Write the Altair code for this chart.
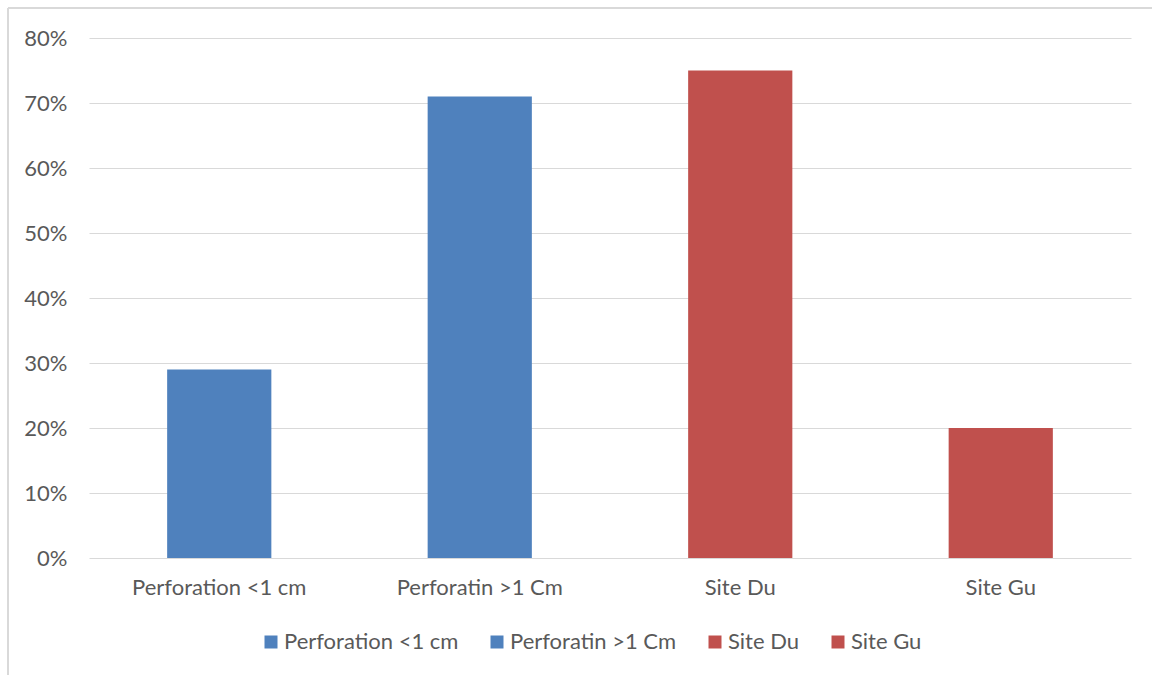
import altair as alt
import pandas as pd

categories = ["Perforation <1 cm", "Perforatin >1 Cm", "Site Du", "Site Gu"]
values = [0.29, 0.71, 0.75, 0.20]
colors = ["#4F81BD", "#4F81BD", "#C0504D", "#C0504D"]

df = pd.DataFrame({"category": categories, "value": values})

FONT = "Lato"
TXT = "#595959"
GRID = "#D9D9D9"
FS = 22

bars = alt.Chart(df).mark_bar().encode(
    x=alt.X("category:N", sort=categories, title=None,
            scale=alt.Scale(paddingInner=0.6, paddingOuter=0.3),
            axis=alt.Axis(labelAngle=0, labelFont=FONT, labelFontSize=FS, labelColor=TXT,
                          labelPadding=19, ticks=False, domain=False, grid=False)),
    y=alt.Y("value:Q", title=None,
            scale=alt.Scale(domain=[0, 0.8]),
            axis=alt.Axis(format=".0%", values=[0, 0.1, 0.2, 0.3, 0.4, 0.5, 0.6, 0.7, 0.8],
                          labelFont=FONT, labelFontSize=FS, labelColor=TXT, labelPadding=22,
                          ticks=False, domain=False, grid=True, gridColor=GRID, gridWidth=1)),
    color=alt.Color("category:N", sort=categories,
                    scale=alt.Scale(domain=categories, range=colors),
                    legend=alt.Legend(title=None, orient="none", direction="horizontal",
                                      legendX=171, legendY=593, symbolType="square",
                                      symbolSize=169, symbolStrokeWidth=0, symbolOpacity=1,
                                      labelFont=FONT, labelFontSize=FS, labelColor=TXT,
                                      labelLimit=0, columnPadding=27, labelOffset=2)),
)

border_top = alt.Chart(df).mark_rule(color=GRID, strokeWidth=2).encode(
    x=alt.value(-81), x2=alt.value(1100), y=alt.value(-30)
)
border_left = alt.Chart(df).mark_rule(color=GRID, strokeWidth=2).encode(
    x=alt.value(-81), y=alt.value(-30), y2=alt.value(640)
)

chart = alt.layer(border_top, border_left, bars).properties(
    width=1042, height=520,
    background="white",
    autosize=alt.AutoSizeParams(type="none"),
    padding={"left": 89, "top": 38, "right": 21, "bottom": 117},
).configure_view(stroke=None, strokeWidth=0)

chart.save("out.html", embed_options={"renderer": "svg", "actions": False})
